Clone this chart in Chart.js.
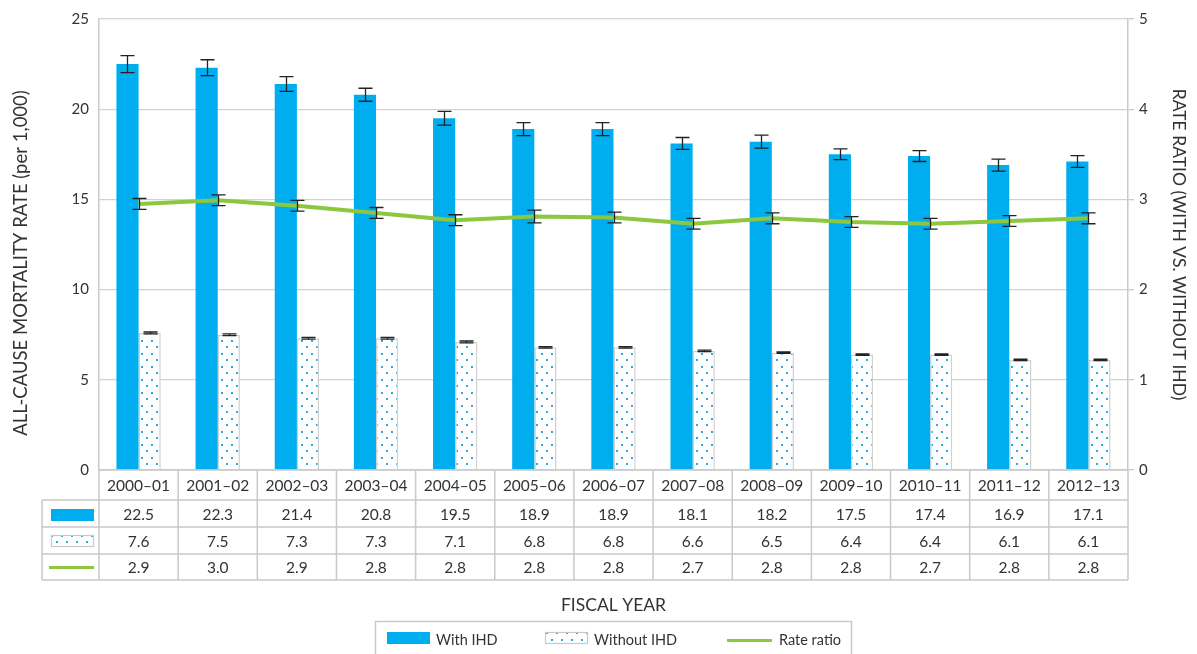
<!DOCTYPE html>
<html>
<head>
<meta charset="utf-8">
<script src="https://cdn.jsdelivr.net/npm/chart.js@4.4.1/dist/chart.umd.min.js"></script>
<style>
  html, body { margin: 0; padding: 0; background: #fff; }
  #wrap { width: 1197px; height: 654px; position: relative; }
</style>
</head>
<body>
<div id="wrap"><canvas id="Chart"></canvas></div>
<script>
// categories and values
const categories = ['2000–01', '2001–02', '2002–03', '2003–04', '2004–05', '2005–06', '2006–07',
                    '2007–08', '2008–09', '2009–10', '2010–11', '2011–12', '2012–13'];
const withIhd = [22.5, 22.3, 21.4, 20.8, 19.5, 18.9, 18.9, 18.1, 18.2, 17.5, 17.4, 16.9, 17.1];
const withIhdErr = [0.47, 0.44, 0.41, 0.36, 0.38, 0.36, 0.36, 0.33, 0.36, 0.30, 0.30, 0.33, 0.33];
const withoutIhd = [7.6, 7.5, 7.3, 7.3, 7.1, 6.8, 6.8, 6.6, 6.5, 6.4, 6.4, 6.1, 6.1];
const withoutIhdErr = [0.05, 0.05, 0.05, 0.05, 0.05, 0.04, 0.04, 0.04, 0.04, 0.04, 0.04, 0.04, 0.04];
const rateRatio = [2.95, 2.99, 2.93, 2.85, 2.77, 2.81, 2.80, 2.73, 2.79, 2.75, 2.73, 2.76, 2.79];
const rateRatioErr = [0.06, 0.06, 0.06, 0.06, 0.06, 0.07, 0.06, 0.06, 0.06, 0.06, 0.06, 0.06, 0.06];
// table rows as printed
const withIhdText = ['22.5', '22.3', '21.4', '20.8', '19.5', '18.9', '18.9', '18.1', '18.2', '17.5', '17.4', '16.9', '17.1'];
const withoutIhdText = ['7.6', '7.5', '7.3', '7.3', '7.1', '6.8', '6.8', '6.6', '6.5', '6.4', '6.4', '6.1', '6.1'];
const rateRatioText = ['2.9', '3.0', '2.9', '2.8', '2.8', '2.8', '2.8', '2.7', '2.8', '2.8', '2.7', '2.8', '2.8'];
const leftAxisMax = 25;
const rightAxisMax = 5;

const BLUE = '#00aeef';
const GREEN = '#8dc63f';
const GRID = '#d2d2d2';
const LINE = '#c9c9c9';
const TEXT = '#333333';
const FONT = 'Lato, "Open Sans", sans-serif';

// dotted fill for the "Without IHD" bars
function makeDots() {
    const c = document.createElement('canvas');
    c.width = 10; c.height = 13;
    const g = c.getContext('2d');
    g.fillStyle = '#fff';
    g.fillRect(0, 0, 10, 13);
    g.fillStyle = '#29abe2';
    g.fillRect(1, 2, 2, 2);
    g.fillRect(6, 8, 2, 2);
    return c;
}
const dotCanvas = makeDots();
const dotPattern = document.getElementById('Chart').getContext('2d').createPattern(dotCanvas, 'repeat');

// error bars, drawn after the datasets
const errorBars = {
    id: 'errorBars',
    afterDatasetsDraw(chart) {
        const ctx = chart.ctx;
        chart.data.datasets.forEach((ds, di) => {
            if (!ds.err) return;
            const meta = chart.getDatasetMeta(di);
            const sc = chart.scales[meta.yAxisID];
            ctx.save();
            ctx.strokeStyle = '#222';
            ctx.lineWidth = 1.3;
            meta.data.forEach((el, i) => {
                const x = Math.round(el.x) + 0.5;
                const y1 = sc.getPixelForValue(ds.data[i] + ds.err[i]);
                const y2 = sc.getPixelForValue(ds.data[i] - ds.err[i]);
                ctx.beginPath();
                ctx.moveTo(x, y1); ctx.lineTo(x, y2);
                ctx.moveTo(x - 7, y1); ctx.lineTo(x + 7, y1);
                ctx.moveTo(x - 7, y2); ctx.lineTo(x + 7, y2);
                ctx.stroke();
            });
            ctx.restore();
        });
    }
};

// data table, left title and legend
const tablePlugin = {
    id: 'tablePlugin',
    afterDraw(chart) {
        const ctx = chart.ctx;
        const area = chart.chartArea;
        const cw = (area.right - area.left) / categories.length;
        const rows = [area.bottom, 500, 527, 554, 580];
        ctx.save();
        ctx.strokeStyle = LINE;
        ctx.lineWidth = 1.5;
        ctx.beginPath();
        ctx.moveTo(area.left, rows[0]); ctx.lineTo(area.right, rows[0]);
        for (let r = 1; r < rows.length; r++) {
            ctx.moveTo(42, rows[r]); ctx.lineTo(area.right, rows[r]);
        }
        ctx.moveTo(42, rows[1]); ctx.lineTo(42, rows[4]);
        for (let k = 0; k <= categories.length; k++) {
            const x = area.left + k * cw;
            ctx.moveTo(x, rows[0]); ctx.lineTo(x, rows[4]);
        }
        ctx.stroke();

        ctx.fillStyle = TEXT;
        ctx.font = '15.5px ' + FONT;
        ctx.textAlign = 'center';
        ctx.textBaseline = 'middle';
        const texts = [categories, withIhdText, withoutIhdText, rateRatioText];
        texts.forEach((arr, r) => {
            const y = (rows[r] + rows[r + 1]) / 2 + 1;
            arr.forEach((t, i) => {
                ctx.fillText(t, area.left + (i + 0.5) * cw, y);
            });
        });

        // row keys
        ctx.fillStyle = BLUE;
        ctx.fillRect(51, 509, 43, 12);
        ctx.fillStyle = dotPattern;
        ctx.fillRect(51, 535, 43, 12);
        ctx.strokeStyle = LINE;
        ctx.lineWidth = 1.2;
        ctx.strokeRect(51.5, 535.5, 42, 11);
        ctx.strokeStyle = GREEN;
        ctx.lineWidth = 3;
        ctx.beginPath();
        ctx.moveTo(49, 567.5); ctx.lineTo(94, 567.5);
        ctx.stroke();

        // left axis title
        ctx.save();
        ctx.translate(21.5, 263);
        ctx.rotate(-Math.PI / 2);
        ctx.fillStyle = TEXT;
        ctx.font = '18.5px ' + FONT;
        ctx.fillText('ALL-CAUSE MORTALITY RATE (per 1,000)', 0, 0);
        ctx.restore();

        // legend
        ctx.strokeStyle = LINE;
        ctx.lineWidth = 1.5;
        ctx.strokeRect(375.5, 621.5, 476, 40);
        ctx.fillStyle = BLUE;
        ctx.fillRect(387, 632, 43, 12);
        ctx.fillStyle = dotPattern;
        ctx.fillRect(545, 632, 43, 12);
        ctx.lineWidth = 1.2;
        ctx.strokeRect(545.5, 632.5, 42, 11);
        ctx.strokeStyle = GREEN;
        ctx.lineWidth = 3;
        ctx.beginPath();
        ctx.moveTo(727, 640.5); ctx.lineTo(772, 640.5);
        ctx.stroke();
        ctx.fillStyle = TEXT;
        ctx.font = '14.5px ' + FONT;
        ctx.textAlign = 'left';
        ctx.fillText('With IHD', 436, 640);
        ctx.fillText('Without IHD', 594, 640);
        ctx.fillText('Rate ratio', 779, 640);
        ctx.restore();
    }
};

const chart = new Chart(document.getElementById('Chart'), {
    type: 'bar',
    data: {
        labels: categories,
        datasets: [
            {
                type: 'line',
                label: 'Rate ratio',
                data: rateRatio,
                err: rateRatioErr,
                yAxisID: 'y1',
                borderColor: GREEN,
                borderWidth: 4,
                pointRadius: 0,
                tension: 0,
                order: 0
            },
            {
                label: 'With IHD',
                data: withIhd,
                err: withIhdErr,
                yAxisID: 'y',
                backgroundColor: BLUE,
                borderWidth: 0,
                categoryPercentage: 0.56,
                barPercentage: 1.0,
                order: 1
            },
            {
                label: 'Without IHD',
                data: withoutIhd,
                err: withoutIhdErr,
                yAxisID: 'y',
                backgroundColor: dotPattern,
                borderColor: '#d0d0d0',
                borderWidth: 1.5,
                categoryPercentage: 0.56,
                barPercentage: 1.0,
                order: 2
            }
        ]
    },
    options: {
        responsive: true,
        maintainAspectRatio: false,
        animation: false,
        layout: { padding: { top: 18, left: 0, right: 0, bottom: 0 } },
        plugins: {
            legend: { display: false },
            tooltip: { enabled: false }
        },
        scales: {
            x: {
                grid: { display: false },
                border: { display: false },
                ticks: { display: false },
                title: {
                    display: true,
                    text: 'FISCAL YEAR',
                    color: TEXT,
                    font: { family: FONT, size: 17.5 },
                    padding: { top: 0, bottom: 38.5 }
                },
                afterFit(s) { s.height = 184; }
            },
            y: {
                position: 'left',
                min: 0,
                max: leftAxisMax,
                ticks: { stepSize: 5, color: TEXT, padding: 10, font: { family: FONT, size: 15 } },
                grid: { color: GRID, lineWidth: 1.3, drawTicks: false },
                border: { color: LINE, width: 1.5 },
                afterFit(s) { s.width = 99; }
            },
            y1: {
                position: 'right',
                min: 0,
                max: rightAxisMax,
                ticks: { stepSize: 1, color: TEXT, padding: 5, font: { family: FONT, size: 15 } },
                grid: { drawOnChartArea: false, color: LINE, tickLength: 6, lineWidth: 1.3 },
                border: { color: LINE, width: 1.5 },
                title: {
                    display: true,
                    text: 'RATE RATIO (WITH VS. WITHOUT IHD)',
                    color: TEXT,
                    font: { family: FONT, size: 17.5 },
                    padding: { top: 7.5, bottom: 0 }
                },
                afterFit(s) { s.width = 69; }
            }
        }
    },
    plugins: [errorBars, tablePlugin]
});
</script>
</body>
</html>
